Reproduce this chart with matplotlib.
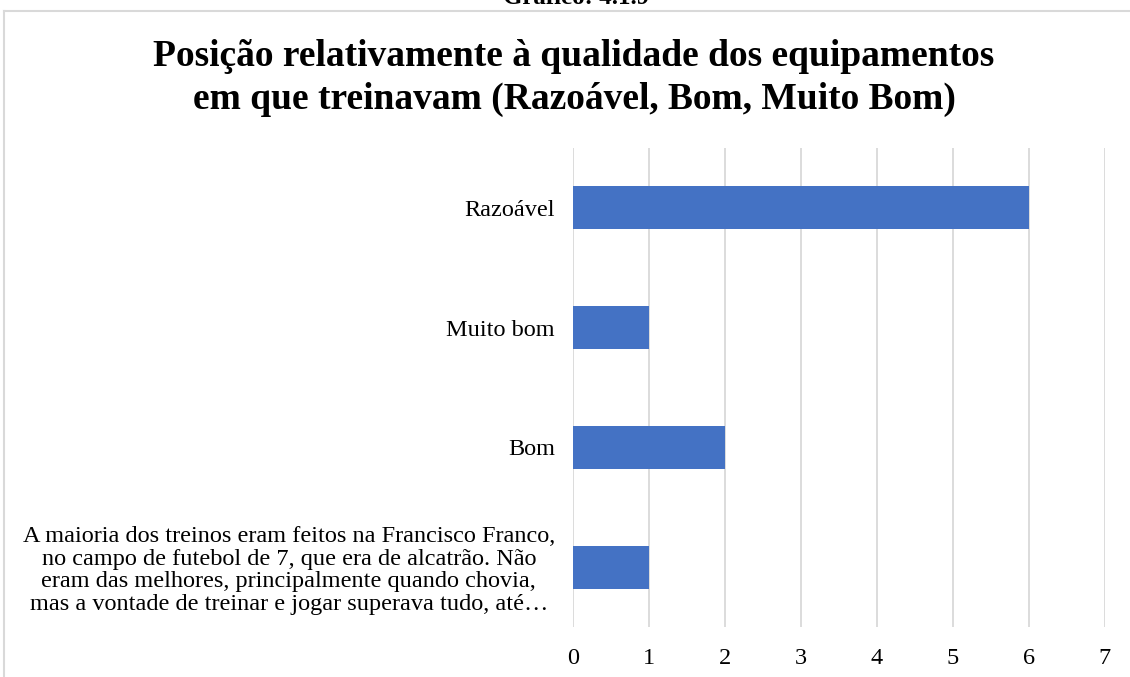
import matplotlib
matplotlib.use("Agg")
import matplotlib.pyplot as plt
from matplotlib.lines import Line2D

categories = [
    "A maioria dos treinos eram feitos na Francisco Franco,\nno campo de futebol de 7, que era de alcatrão. Não\neram das melhores, principalmente quando chovia,\nmas a vontade de treinar e jogar superava tudo, até…",
    "Bom",
    "Muito bom",
    "Razoável",
]
values = [1, 2, 1, 6]
xticks = [0, 1, 2, 3, 4, 5, 6, 7]

plt.rcParams['font.family'] = ['Liberation Serif', 'DejaVu Serif']

fig = plt.figure(figsize=(11.3, 6.77), dpi=100)
W, H = 1130, 677

# outer chart border (top and left visible)
fig.add_artist(Line2D([4/W, 4/W], [0, 1 - 11/H], color='#D9D9D9', lw=1.5, transform=fig.transFigure))
fig.add_artist(Line2D([4/W, 1], [1 - 11/H, 1 - 11/H], color='#D9D9D9', lw=1.5, transform=fig.transFigure))

fig.text(576/W, 1 - 4/H, "Gráfico: 4.1.9", ha='center', va='baseline', fontsize=18, fontweight='bold')

fig.text(574/W, 1 - 78/H, "Posição relativamente à qualidade dos equipamentos\nem que treinavam (Razoável, Bom, Muito Bom)",
         ha='center', va='center', fontsize=27, fontweight='bold', linespacing=1.28)

ax = fig.add_axes([573/W, 1 - 627/H, (1105 - 573)/W, (627 - 148)/H])
ax.barh(range(len(categories)), values, height=0.36, color='#4472C4', zorder=3)
ax.set_xlim(0, 7)
ax.set_ylim(-0.5, len(categories) - 0.5)
ax.set_xticks(xticks)
ax.set_yticks(range(len(categories)))
ax.set_yticklabels(categories, fontsize=17.5, ha='right', multialignment='center', linespacing=1.09)
ax.tick_params(axis='y', length=0, pad=13)
ax.tick_params(axis='x', length=0, pad=15, labelsize=17.5)
ax.grid(axis='x', color='#D9D9D9', lw=1.3, zorder=0)
for s in ax.spines.values():
    s.set_visible(False)

fig.savefig("out.png", dpi=100)
